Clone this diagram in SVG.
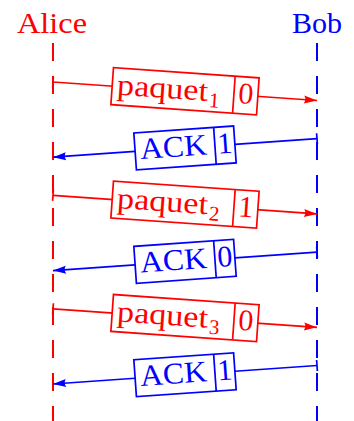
<svg xmlns="http://www.w3.org/2000/svg" width="354" height="421" viewBox="0 0 354 421">
<style>
text{font-family:"Liberation Serif","Times New Roman",serif;font-size:30px}
.r{fill:#ff0000}
.b{fill:#0000ff}
.life{fill:none;stroke-width:2;stroke-dasharray:18 15}
.msg{fill:none;stroke-width:1.7}
.box{fill:#ffffff;stroke-width:1.7}
.sub{font-size:21px}
</style>
<defs>
<marker id="ar" markerUnits="userSpaceOnUse" markerWidth="14" markerHeight="10" refX="13" refY="4" orient="auto" overflow="visible"><path d="M0,0 L13,4 L0,8 Q2.5,4 0,0 Z" fill="#ff0000"/></marker>
<marker id="ab" markerUnits="userSpaceOnUse" markerWidth="14" markerHeight="10" refX="13" refY="4" orient="auto" overflow="visible"><path d="M0,0 L13,4 L0,8 Q2.5,4 0,0 Z" fill="#0000ff"/></marker>
<marker id="tr" markerUnits="userSpaceOnUse" markerWidth="4" markerHeight="12" refX="0" refY="0" orient="auto" overflow="visible"><path d="M0,-5.5 L0,5.5" stroke="#ff0000" stroke-width="1.7"/></marker>
<marker id="tb" markerUnits="userSpaceOnUse" markerWidth="4" markerHeight="12" refX="0" refY="0" orient="auto" overflow="visible"><path d="M0,-5.5 L0,5.5" stroke="#0000ff" stroke-width="1.7"/></marker>
</defs>
<g id="alice">
<text class="r" x="52" y="33" text-anchor="middle" textLength="70" lengthAdjust="spacingAndGlyphs">Alice</text>
<line class="life" x1="53" y1="43" x2="53" y2="421" stroke="#ff0000"/>
</g>
<g id="bob">
<text class="b" x="317" y="33" text-anchor="middle" textLength="50" lengthAdjust="spacingAndGlyphs">Bob</text>
<line class="life" x1="317" y1="43" x2="317" y2="421" stroke="#0000ff"/>
</g>
<g id="connectors">
<line class="msg" x1="53" y1="82" x2="317" y2="100.5" stroke="#ff0000" marker-start="url(#tr)" marker-end="url(#ar)"/>
<line class="msg" x1="317" y1="138.7" x2="53" y2="157.2" stroke="#0000ff" marker-start="url(#tb)" marker-end="url(#ab)"/>
<line class="msg" x1="53" y1="195.4" x2="317" y2="213.9" stroke="#ff0000" marker-start="url(#tr)" marker-end="url(#ar)"/>
<line class="msg" x1="317" y1="252.1" x2="53" y2="270.6" stroke="#0000ff" marker-start="url(#tb)" marker-end="url(#ab)"/>
<line class="msg" x1="53" y1="308.8" x2="317" y2="327.3" stroke="#ff0000" marker-start="url(#tr)" marker-end="url(#ar)"/>
<line class="msg" x1="317" y1="365.5" x2="53" y2="384" stroke="#0000ff" marker-start="url(#tb)" marker-end="url(#ab)"/>
</g>
<g id="msg1" transform="translate(185,91.25) rotate(4.01)">
<rect class="box" x="-73" y="-18.5" width="146" height="37" stroke="#ff0000"/>
<line x1="49" y1="-18.5" x2="49" y2="18.5" stroke="#ff0000" stroke-width="1.7"/>
<text class="r" x="-68" y="8" textLength="91" lengthAdjust="spacingAndGlyphs">paquet</text>
<text class="r sub" x="24.5" y="14">1</text>
<text class="r" x="61" y="8" text-anchor="middle">0</text>
</g>
<g id="msg2" transform="translate(185,147.95) rotate(-4.01)">
<rect class="box" x="-50" y="-18.5" width="100" height="37" stroke="#0000ff"/>
<line x1="30" y1="-18.5" x2="30" y2="18.5" stroke="#0000ff" stroke-width="1.7"/>
<text class="b" x="-45" y="8" textLength="67" lengthAdjust="spacingAndGlyphs">ACK</text>
<text class="b" x="40" y="8" text-anchor="middle">1</text>
</g>
<g id="msg3" transform="translate(185,204.65) rotate(4.01)">
<rect class="box" x="-73" y="-18.5" width="146" height="37" stroke="#ff0000"/>
<line x1="49" y1="-18.5" x2="49" y2="18.5" stroke="#ff0000" stroke-width="1.7"/>
<text class="r" x="-68" y="8" textLength="91" lengthAdjust="spacingAndGlyphs">paquet</text>
<text class="r sub" x="24.5" y="14">2</text>
<text class="r" x="61" y="8" text-anchor="middle">1</text>
</g>
<g id="msg4" transform="translate(185,261.35) rotate(-4.01)">
<rect class="box" x="-50" y="-18.5" width="100" height="37" stroke="#0000ff"/>
<line x1="30" y1="-18.5" x2="30" y2="18.5" stroke="#0000ff" stroke-width="1.7"/>
<text class="b" x="-45" y="8" textLength="67" lengthAdjust="spacingAndGlyphs">ACK</text>
<text class="b" x="40" y="8" text-anchor="middle">0</text>
</g>
<g id="msg5" transform="translate(185,318.05) rotate(4.01)">
<rect class="box" x="-73" y="-18.5" width="146" height="37" stroke="#ff0000"/>
<line x1="49" y1="-18.5" x2="49" y2="18.5" stroke="#ff0000" stroke-width="1.7"/>
<text class="r" x="-68" y="8" textLength="91" lengthAdjust="spacingAndGlyphs">paquet</text>
<text class="r sub" x="24.5" y="14">3</text>
<text class="r" x="61" y="8" text-anchor="middle">0</text>
</g>
<g id="msg6" transform="translate(185,374.75) rotate(-4.01)">
<rect class="box" x="-50" y="-18.5" width="100" height="37" stroke="#0000ff"/>
<line x1="30" y1="-18.5" x2="30" y2="18.5" stroke="#0000ff" stroke-width="1.7"/>
<text class="b" x="-45" y="8" textLength="67" lengthAdjust="spacingAndGlyphs">ACK</text>
<text class="b" x="40" y="8" text-anchor="middle">1</text>
</g>
</svg>
